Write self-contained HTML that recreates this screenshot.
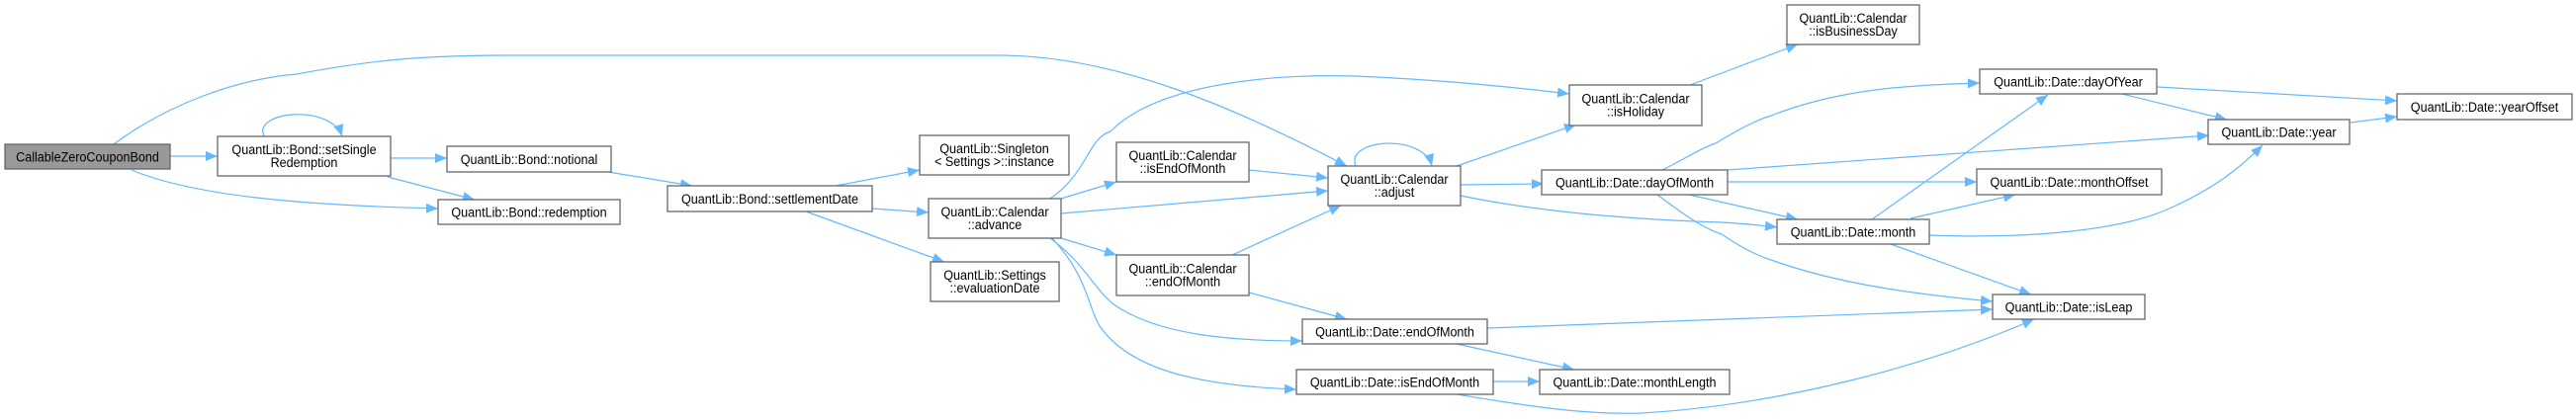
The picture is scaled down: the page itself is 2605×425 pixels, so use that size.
<!DOCTYPE html>
<html><head><meta charset="utf-8">
<style>
html,body{margin:0;padding:0;background:#fff;}
svg{display:block;}
text{font-family:"Liberation Sans",Arial,sans-serif;font-size:14px;fill:#000;}
</style></head>
<body>
<svg width="2605" height="425" viewBox="0 0 2605 425" xmlns="http://www.w3.org/2000/svg">
<defs>
<marker id="a" markerUnits="userSpaceOnUse" markerWidth="13" markerHeight="10" refX="12" refY="5" orient="auto">
<path d="M0,0 L12,5 L0,10 Z" fill="#63b8ff"/>
</marker>
</defs>
<g fill="none" stroke="#63b8ff" stroke-width="1.2" marker-end="url(#a)">
<path d="M172,158 L220,158"/>
<path d="M133,172 C200,200 320,208 443,211"/>
<path d="M115,146 C170,105 240,80 300,75 C380,60 430,56 520,56 L1010,56 C1130,56 1250,110 1362,168"/>
<path d="M267,138 C255,112 335,105 346,138"/>
<path d="M395,160 L452,160"/>
<path d="M392,179 L480,202"/>
<path d="M615,174 L700,188"/>
<path d="M845,188 L930,172"/>
<path d="M882,211 L939,215"/>
<path d="M815,214 L955,265"/>
<path d="M1073,201 L1129,184"/>
<path d="M1073,216 L1343,193"/>
<path d="M1062,201 C1100,175 1100,140 1123,133 C1170,85 1290,72 1392,78 C1470,82 1530,88 1587,95"/>
<path d="M1073,241 L1129,258"/>
<path d="M1062,241 C1095,265 1105,290 1125,307 C1170,340 1250,345 1317,345"/>
<path d="M1064,241 C1100,280 1100,310 1112,330 C1140,370 1200,390 1311,394"/>
<path d="M1263,172 L1343,180"/>
<path d="M1246,258 L1356,208"/>
<path d="M1263,296 L1362,323"/>
<path d="M1371,168 C1360,140 1440,135 1448,168"/>
<path d="M1473,168 L1594,126"/>
<path d="M1477,187 L1561,186"/>
<path d="M1477,198 C1560,215 1650,222 1741,225 C1760,226 1780,228 1797,230"/>
<path d="M1504,332 L2015,313"/>
<path d="M1473,348 L1592,374"/>
<path d="M1510,386 L1557,386"/>
<path d="M1473,399 C1540,410 1600,420 1660,418 C1800,410 1950,370 2057,323"/>
<path d="M1709,86 L1818,45"/>
<path d="M1681,172 C1705,160 1720,150 1735,145 C1760,130 1775,122 1791,117 C1860,90 1930,86 2002,84"/>
<path d="M1747,172 L2234,137"/>
<path d="M1747,184 L1999,184"/>
<path d="M1708,197 L1818,222"/>
<path d="M1676,197 C1700,215 1720,230 1741,237 C1760,250 1775,258 1791,263 C1860,288 1940,298 2015,305"/>
<path d="M1893,222 L2071,96"/>
<path d="M1932,221 L2038,197"/>
<path d="M1951,238 C2060,242 2150,232 2196,210 C2240,190 2265,170 2288,147"/>
<path d="M1912,247 L2054,298"/>
<path d="M2182,88 L2424,102"/>
<path d="M2146,95 L2252,121"/>
<path d="M2377,124 L2424,118"/>
</g>
<g stroke="#666" stroke-width="1.3" fill="#fff">
<rect x="5" y="146" width="167" height="25" fill="#999"/>
<rect x="220" y="138" width="175" height="40"/>
<rect x="452" y="148" width="166" height="26"/>
<rect x="443" y="202" width="184" height="25"/>
<rect x="675" y="188" width="207" height="26"/>
<rect x="930" y="137" width="151" height="40"/>
<rect x="939" y="201" width="134" height="40"/>
<rect x="941" y="265" width="130" height="40"/>
<rect x="1129" y="144" width="134" height="40"/>
<rect x="1129" y="258" width="134" height="41"/>
<rect x="1343" y="168" width="134" height="40"/>
<rect x="1317" y="323" width="187" height="25"/>
<rect x="1311" y="374" width="199" height="25"/>
<rect x="1587" y="86" width="134" height="41"/>
<rect x="1559" y="172" width="188" height="25"/>
<rect x="1557" y="374" width="192" height="25"/>
<rect x="1807" y="5" width="134" height="40"/>
<rect x="2002" y="70" width="179" height="25"/>
<rect x="2424" y="95" width="177" height="26"/>
<rect x="2233" y="121" width="143" height="25"/>
<rect x="1999" y="171" width="187" height="26"/>
<rect x="1797" y="222" width="154" height="25"/>
<rect x="2015" y="298" width="154" height="25"/>
</g>
<g text-anchor="middle">
<text transform="translate(88.5,163.5) scale(0.9,1)">CallableZeroCouponBond</text>
<text transform="translate(307.5,156) scale(0.9,1)">QuantLib::Bond::setSingle</text>
<text transform="translate(307.5,169) scale(0.9,1)">Redemption</text>
<text transform="translate(535,166) scale(0.9,1)">QuantLib::Bond::notional</text>
<text transform="translate(535,219.5) scale(0.9,1)">QuantLib::Bond::redemption</text>
<text transform="translate(778.5,206) scale(0.9,1)">QuantLib::Bond::settlementDate</text>
<text transform="translate(1005.5,155) scale(0.9,1)">QuantLib::Singleton</text>
<text transform="translate(1005.5,168) scale(0.9,1)">&lt; Settings &gt;::instance</text>
<text transform="translate(1006,219) scale(0.9,1)">QuantLib::Calendar</text>
<text transform="translate(1006,232) scale(0.9,1)">::advance</text>
<text transform="translate(1006,283) scale(0.9,1)">QuantLib::Settings</text>
<text transform="translate(1006,296) scale(0.9,1)">::evaluationDate</text>
<text transform="translate(1196,162) scale(0.9,1)">QuantLib::Calendar</text>
<text transform="translate(1196,175) scale(0.9,1)">::isEndOfMonth</text>
<text transform="translate(1196,276.5) scale(0.9,1)">QuantLib::Calendar</text>
<text transform="translate(1196,289.5) scale(0.9,1)">::endOfMonth</text>
<text transform="translate(1410,186) scale(0.9,1)">QuantLib::Calendar</text>
<text transform="translate(1410,199) scale(0.9,1)">::adjust</text>
<text transform="translate(1410.5,340.5) scale(0.9,1)">QuantLib::Date::endOfMonth</text>
<text transform="translate(1410.5,391.5) scale(0.9,1)">QuantLib::Date::isEndOfMonth</text>
<text transform="translate(1654,104.5) scale(0.9,1)">QuantLib::Calendar</text>
<text transform="translate(1654,117.5) scale(0.9,1)">::isHoliday</text>
<text transform="translate(1653,189.5) scale(0.9,1)">QuantLib::Date::dayOfMonth</text>
<text transform="translate(1653,391.5) scale(0.9,1)">QuantLib::Date::monthLength</text>
<text transform="translate(1874,23) scale(0.9,1)">QuantLib::Calendar</text>
<text transform="translate(1874,36) scale(0.9,1)">::isBusinessDay</text>
<text transform="translate(2091.5,87.5) scale(0.9,1)">QuantLib::Date::dayOfYear</text>
<text transform="translate(2512.5,113) scale(0.9,1)">QuantLib::Date::yearOffset</text>
<text transform="translate(2304.5,138.5) scale(0.9,1)">QuantLib::Date::year</text>
<text transform="translate(2092.5,189) scale(0.9,1)">QuantLib::Date::monthOffset</text>
<text transform="translate(1874,239.5) scale(0.9,1)">QuantLib::Date::month</text>
<text transform="translate(2092,315.5) scale(0.9,1)">QuantLib::Date::isLeap</text>
</g>
</svg>
</body></html>
